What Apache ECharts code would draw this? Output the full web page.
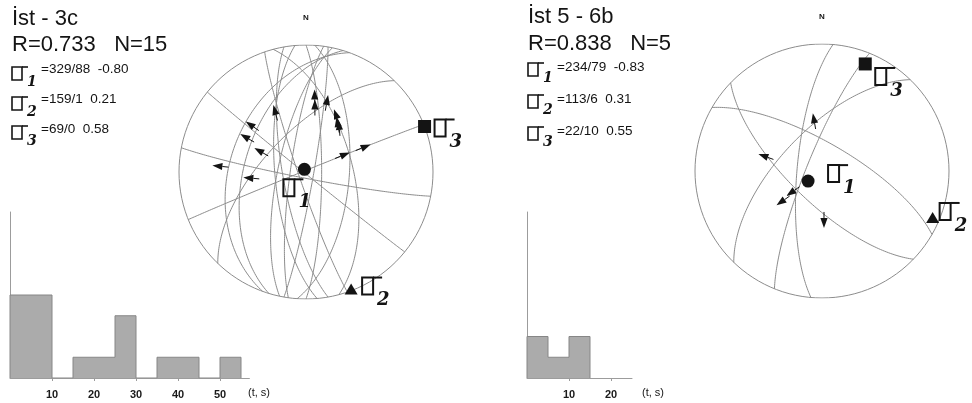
<!DOCTYPE html>
<html>
<head>
<meta charset="utf-8">
<script src="https://cdn.jsdelivr.net/npm/echarts@6/dist/echarts.min.js"></script>
<style>
html, body { margin: 0; padding: 0; background: #fff; }
#chart { width: 972px; height: 403px; }
</style>
</head>
<body>
<div id="chart"></div>
<script>
// ---- site headers ----
const siteNames = ['İst - 3c', 'İst 5 - 6b'];
const siteR = ['0.733', '0.838'];
const siteN = [15, 5];

// ---- principal stress axes: [trend, plunge, ratio] for sigma 1, 2, 3 ----
const stressA = [[329, 88, -0.80], [159, 1, 0.21], [69, 0, 0.58]];
const stressB = [[234, 79, -0.83], [113, 6, 0.31], [22, 10, 0.55]];

// ---- fault planes: [dip direction, dip] ----
const planesA = [
  [219, 89], [191, 86], [338, 89], [290, 40], [287, 50],
  [314, 64], [75, 60], [260, 75], [90, 80], [94, 62],
  [278, 80], [282, 72], [251, 85], [100, 85], [265, 70]
];
const planesB = [[275, 74], [292, 80], [224, 70], [30, 72], [314, 64]];

// ---- slip vectors: [trend, plunge, slip azimuth] ----
const slipA = [
  [334, 41, 345], [310, 38, 305], [300, 40, 300], [295, 53, 300],
  [274, 27, 276], [265, 49, 275], [6, 35, 0], [7, 42, 0],
  [16, 37, 10], [24, 45, 340], [29, 49, 350], [32, 50, 355],
  [66, 59, 68], [67, 44, 68]
];
const slipB = [[351, 52, 350], [285, 47, 290], [235, 62, 235], [233, 53, 235], [178, 53, 180]];

// ---- misfit histograms: [from, to, count] ----
const histA = [[0, 5, 4], [5, 10, 4], [15, 20, 1], [20, 25, 1], [25, 30, 3], [35, 40, 1], [40, 45, 1], [50, 55, 1]];
const histB = [[0, 5, 2], [5, 10, 1], [10, 15, 2]];
const histTicksA = [10, 20, 30, 40, 50];
const histTicksB = [10, 20];
const histUnit = '(t, s)';

// ---------------------------------------------------------------
const RAD = Math.PI / 180;
const INK = '#141414';
const ARC = '#8c8c8c';
const SANS = '"Liberation Sans", Arial, sans-serif';
const SCRIPT = '"DejaVu Serif", serif';

// Lambert equal-area, lower hemisphere, unit radius
function project(trend, plunge) {
  const t = trend * RAD, p = plunge * RAD;
  const n = Math.cos(p) * Math.cos(t), e = Math.cos(p) * Math.sin(t), d = Math.sin(p);
  const k = 1 / Math.sqrt(1 + d);
  return [e * k, n * k];
}
function greatCircle(dd, dip) {
  const s = (dd - 90) * RAD, a = dd * RAD, dp = dip * RAD;
  const S = [Math.cos(s), Math.sin(s), 0];
  const D = [Math.cos(dp) * Math.cos(a), Math.cos(dp) * Math.sin(a), Math.sin(dp)];
  const pts = [];
  for (let i = 0; i <= 120; i++) {
    const t = Math.PI * i / 120, c = Math.cos(t), sn = Math.sin(t);
    const n = c * S[0] + sn * D[0], e = c * S[1] + sn * D[1], d = Math.max(0, sn * D[2]);
    const k = 1 / Math.sqrt(1 + d);
    pts.push([e * k, n * k]);
  }
  return pts;
}
function primitive() {
  const pts = [];
  for (let az = 0; az <= 360; az += 3) pts.push(project(az, 0));
  return pts;
}

// sigma glyph: box with a top bar and a script subscript
function sigmaGlyph(x, y, digit, big) {
  const bw = big ? 11 : 10, bh = big ? 17 : 13, ext = big ? 9 : 6, lw = big ? 2 : 1.6;
  return [
    { type: 'rect', shape: { x: x, y: y, width: bw, height: bh }, style: { fill: 'none', stroke: INK, lineWidth: lw } },
    { type: 'line', shape: { x1: x + bw, y1: y, x2: x + bw + ext, y2: y }, style: { stroke: INK, lineWidth: lw } },
    { type: 'text', x: x + bw + (big ? 4 : 5), y: y + bh - (big ? 3 : 5),
      style: { text: String(digit), font: 'italic bold ' + (big ? 18 : 14) + 'px ' + SCRIPT, fill: INK, verticalAlign: 'top' } }
  ];
}

const TAIL = 16, HEAD_LEN = 10, HEAD_W = 3.6;
function arrowItem(params, api) {
  const head = api.coord(project(api.value(0), api.value(1)));
  const az = api.value(2) * RAD;
  const ux = Math.sin(az), uy = -Math.cos(az);
  const tail = [head[0] - ux * TAIL, head[1] - uy * TAIL];
  const base = [head[0] - ux * HEAD_LEN, head[1] - uy * HEAD_LEN];
  const px = -uy, py = ux;
  return {
    type: 'group', children: [
      { type: 'line', shape: { x1: tail[0], y1: tail[1], x2: base[0], y2: base[1] }, style: { stroke: INK, lineWidth: 1 } },
      { type: 'polygon', shape: { points: [head, [base[0] + px * HEAD_W, base[1] + py * HEAD_W], [base[0] - px * HEAD_W, base[1] - py * HEAD_W]] }, style: { fill: INK } }
    ]
  };
}

// label offsets (pixels) of the sigma glyphs next to the plotted axes
const labelOffsets = [
  [[-21, 10], [11, -12], [10, -7]],
  [[20, -16], [7, -15], [10, 4]]
];
function stressItemFactory(net) {
  return function (params, api) {
    const i = params.dataIndex;
    const c = api.coord(project(api.value(0), api.value(1)));
    let mark;
    if (i === 0) mark = { type: 'circle', shape: { cx: c[0], cy: c[1], r: 6.5 }, style: { fill: INK } };
    else if (i === 1) mark = { type: 'polygon', shape: { points: [[c[0], c[1] - 6], [c[0] + 6.5, c[1] + 5], [c[0] - 6.5, c[1] + 5]] }, style: { fill: INK } };
    else mark = { type: 'rect', shape: { x: c[0] - 6.5, y: c[1] - 6.5, width: 13, height: 13 }, style: { fill: INK } };
    const off = labelOffsets[net][i];
    return { type: 'group', children: [mark].concat(sigmaGlyph(c[0] + off[0], c[1] + off[1], i + 1, true)) };
  };
}

function envelope(bins) {
  const pts = [[bins[0][0], 0]];
  let prevTo = bins[0][0];
  bins.forEach(function (b) {
    if (b[0] !== prevTo) { pts.push([prevTo, 0]); pts.push([b[0], 0]); }
    pts.push([b[0], b[2]]); pts.push([b[1], b[2]]);
    prevTo = b[1];
  });
  pts.push([prevTo, 0]);
  return pts;
}
function barItem(params, api) {
  const p0 = api.coord([api.value(0), api.value(2)]);
  const p1 = api.coord([api.value(1), 0]);
  return { type: 'rect', shape: { x: p0[0], y: p0[1], width: p1[0] - p0[0], height: p1[1] - p0[1] }, style: { fill: '#ababab' } };
}

// ---- layout ----
const nets = [{ cx: 306, cy: 172, r: 127 }, { cx: 822, cy: 171, r: 127 }];
const PX_PER_T = 4.2;
const hists = [
  { left: 10, top: 212, height: 166, max: 57, bins: histA, ticks: histTicksA, unitX: 248 },
  { left: 527, top: 212, height: 166, max: 25, bins: histB, ticks: histTicksB, unitX: 642 }
];
const heads = [
  { x: 12, nameBase: 8, rBase: 34, legX: 12, legY: [67, 97, 126], textY: [62, 92, 122] },
  { x: 528, nameBase: 6, rBase: 33, legX: 528, legY: [63, 95, 127], textY: [60, 92, 124] }
];

const grids = [], xAxes = [], yAxes = [], series = [], graphics = [];

nets.forEach(function (net, k) {
  grids.push({ left: net.cx - net.r, top: net.cy - net.r, width: 2 * net.r, height: 2 * net.r });
  xAxes.push({ gridIndex: k, type: 'value', min: -1, max: 1, show: false });
  yAxes.push({ gridIndex: k, type: 'value', min: -1, max: 1, show: false });
  const planes = k === 0 ? planesA : planesB;
  const slips = k === 0 ? slipA : slipB;
  const stress = k === 0 ? stressA : stressB;
  series.push({
    type: 'lines', coordinateSystem: 'cartesian2d', xAxisIndex: k, yAxisIndex: k, polyline: true, silent: true,
    lineStyle: { color: ARC, width: 1, opacity: 1 },
    data: [{ coords: primitive() }].concat(planes.map(function (p) { return { coords: greatCircle(p[0], p[1]) }; }))
  });
  series.push({ type: 'custom', xAxisIndex: k, yAxisIndex: k, silent: true, renderItem: arrowItem, data: slips, encode: { x: 0, y: 1 } });
  series.push({ type: 'custom', xAxisIndex: k, yAxisIndex: k, silent: true, renderItem: stressItemFactory(k), data: stress, encode: { x: 0, y: 1 } });
  graphics.push({ type: 'text', x: net.cx, y: net.cy - net.r - 31, style: { text: 'N', font: 'bold 8px ' + SANS, fill: INK, align: 'center', verticalAlign: 'top' } });
});

hists.forEach(function (h, k) {
  const gi = k + 2;
  grids.push({ left: h.left, top: h.top, width: h.max * PX_PER_T, height: h.height });
  xAxes.push({
    gridIndex: gi, type: 'value', min: 0, max: h.max,
    axisLine: { show: true, lineStyle: { color: '#9c9c9c', width: 1 } },
    axisTick: { show: true, customValues: h.ticks, length: 3, lineStyle: { color: '#9c9c9c' } },
    axisLabel: { show: true, customValues: h.ticks, margin: 11, color: '#1a1a1a', fontWeight: 'bold', fontSize: 11, fontFamily: SANS },
    splitLine: { show: false }
  });
  yAxes.push({
    gridIndex: gi, type: 'value', min: 0, max: 8,
    axisLine: { show: true, lineStyle: { color: '#9c9c9c', width: 1 } },
    axisTick: { show: false }, axisLabel: { show: false }, splitLine: { show: false }
  });
  series.push({ type: 'custom', xAxisIndex: gi, yAxisIndex: gi, silent: true, renderItem: barItem, data: h.bins, encode: { x: [0, 1], y: 2 } });
  series.push({
    type: 'line', xAxisIndex: gi, yAxisIndex: gi, silent: true, symbol: 'none',
    lineStyle: { color: '#868686', width: 1 }, data: envelope(h.bins)
  });
  graphics.push({ type: 'text', x: h.unitX, y: h.top + h.height + 9,
    style: { text: histUnit, font: '11px ' + SANS, fill: INK, verticalAlign: 'top' } });
});

heads.forEach(function (hd, k) {
  const stress = k === 0 ? stressA : stressB;
  graphics.push({ type: 'text', x: hd.x, y: hd.nameBase, style: { text: siteNames[k], font: '22px ' + SANS, fill: INK, verticalAlign: 'top' } });
  graphics.push({ type: 'text', x: hd.x, y: hd.rBase, style: { text: 'R=' + siteR[k] + '   N=' + siteN[k], font: '22px ' + SANS, fill: INK, verticalAlign: 'top' } });
  stress.forEach(function (s, i) {
    graphics.push({ type: 'group', children: sigmaGlyph(hd.legX, hd.legY[i], i + 1, false) });
    graphics.push({ type: 'text', x: hd.legX + 29, y: hd.textY[i],
      style: { text: '=' + s[0] + '/' + s[1] + '  ' + s[2].toFixed(2), font: '13.5px ' + SANS, fill: INK, verticalAlign: 'top' } });
  });
});

const chart = echarts.init(document.getElementById('chart'), null, { renderer: 'canvas' });
chart.setOption({
  animation: false,
  backgroundColor: '#ffffff',
  grid: grids,
  xAxis: xAxes,
  yAxis: yAxes,
  series: series,
  graphic: graphics
});
</script>
</body>
</html>
